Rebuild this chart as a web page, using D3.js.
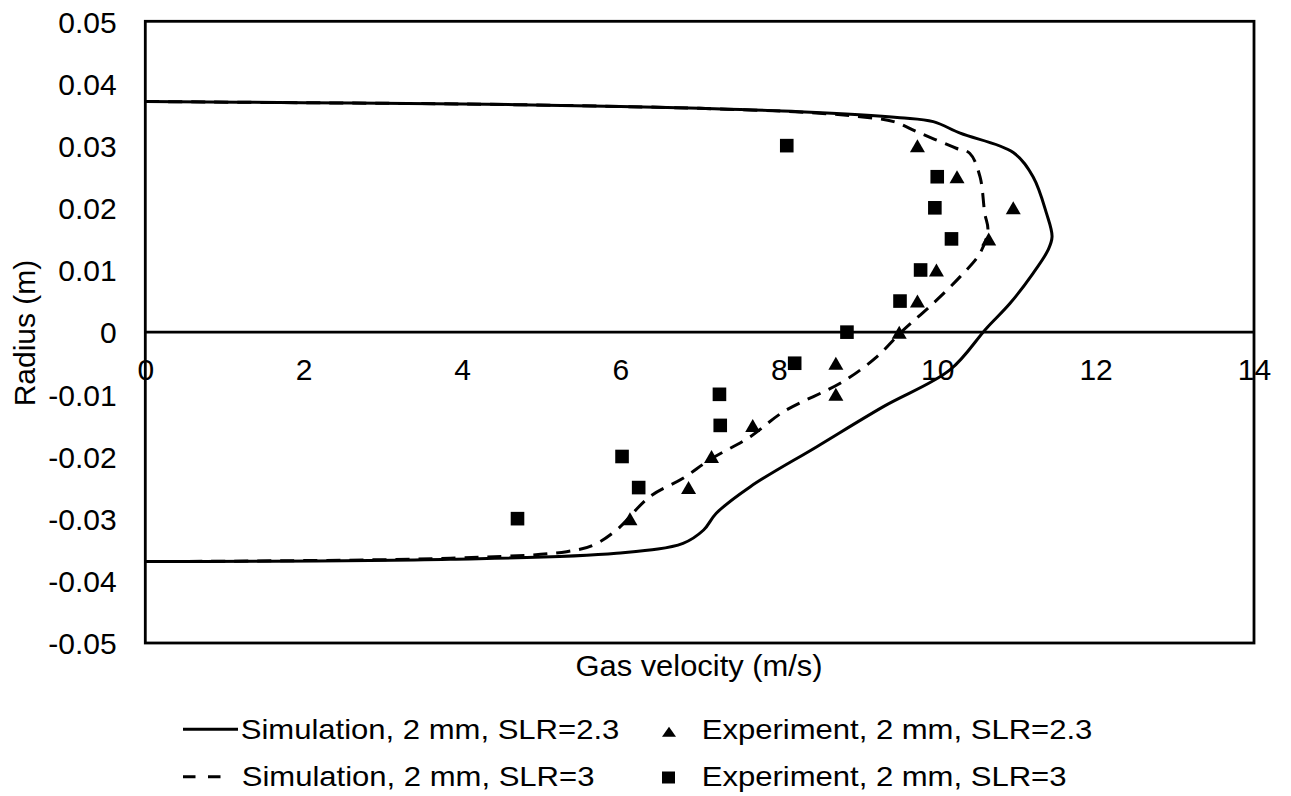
<!DOCTYPE html>
<html><head><meta charset="utf-8">
<script src="https://cdn.jsdelivr.net/npm/d3@7"></script>
<style>
html,body{margin:0;padding:0;background:#fff;}
svg text{font-family:"Liberation Sans",Arial,sans-serif;font-size:30px;fill:#000;}
</style></head>
<body>
<svg id="chart" width="1291" height="796"></svg>
<script>
// ---- data ----
const xTicks = [0, 2, 4, 6, 8, 10, 12, 14];
const yTicks = [0.05, 0.04, 0.03, 0.02, 0.01, 0, -0.01, -0.02, -0.03, -0.04, -0.05];
const yTickLabels = ["0.05","0.04","0.03","0.02","0.01","0","-0.01","-0.02","-0.03","-0.04","-0.05"];

// Simulation, SLR=2.3 (velocity, radius)
const simVel23 = [0, 2, 4, 6, 7, 8.26, 9.53, 9.95, 10.29, 10.96, 11.21, 11.38, 11.45, 11.40, 11.21, 10.92, 10.62, 10.16, 9.32, 8.48, 7.64, 7.21, 7.05, 6.79, 5.95, 3.85, 0];
const simRad23 = [0.0371, 0.0369, 0.0367, 0.0363, 0.0360, 0.03547, 0.0345, 0.03386, 0.0320, 0.0289, 0.0250, 0.0191, 0.01536, 0.01322, 0.00947, 0.00464, 0.0006, -0.00608, -0.01198, -0.01842, -0.02485, -0.02913, -0.03182, -0.03396, -0.03556, -0.03653, -0.0369];

// Simulation, SLR=3
const simVel3 = [0, 2, 4, 6, 7, 8.26, 9.0, 9.45, 9.74, 10.24, 10.41, 10.54, 10.60, 10.64, 10.54, 10.29, 9.95, 9.53, 9.24, 8.81, 8.06, 7.64, 7.13, 6.79, 6.37, 5.95, 5.66, 5.32, 3.85, 0];
const simRad3 = [0.0371, 0.0369, 0.0367, 0.0363, 0.0360, 0.0354, 0.0347, 0.03386, 0.03225, 0.02958, 0.02878, 0.02501, 0.01912, 0.01644, 0.01269, 0.00893, 0.00465, -0.00018, -0.00394, -0.00796, -0.01279, -0.01681, -0.02051, -0.0235, -0.02646, -0.03182, -0.03423, -0.03531, -0.03637, -0.0369];

// Experiment, SLR=2.3 (triangles)
const expVel23 = [9.75, 10.25, 10.96, 10.65, 9.99, 9.75, 9.52, 8.72, 8.72, 7.67, 7.15, 6.86, 6.12];
const expRad23 = [0.03, 0.025, 0.02, 0.015, 0.01, 0.005, 0, -0.005, -0.01, -0.015, -0.02, -0.025, -0.03];

// Experiment, SLR=3 (squares)
const expVel3 = [8.10, 10.0, 9.97, 10.18, 9.79, 9.53, 8.86, 8.20, 7.25, 7.26, 6.02, 6.23, 4.70];
const expRad3 = [0.03, 0.025, 0.02, 0.015, 0.01, 0.005, 0, -0.005, -0.01, -0.015, -0.02, -0.025, -0.03];

const legendLabels = ["Simulation, 2 mm, SLR=2.3", "Experiment, 2 mm, SLR=2.3", "Simulation, 2 mm, SLR=3", "Experiment, 2 mm, SLR=3"];
const xTitle = "Gas velocity (m/s)";
const yTitle = "Radius (m)";

// ---- drawing ----
const LSX = 1.15; // horizontal glyph stretch of legend text
const svg = d3.select("#chart");
const x = d3.scaleLinear().domain([0, 14]).range([145.3, 1254]);
const y = d3.scaleLinear().domain([-0.05, 0.05]).range([643, 21.3]);

const zip = (a, b) => a.map((v, i) => [v, b[i]]);
const FONT = '"Liberation Sans",Arial,sans-serif';

// Y axis
const yAxis = svg.append("g").attr("transform", `translate(${x(0)},0)`)
  .call(d3.axisLeft(y).tickValues(yTicks).tickSize(0).tickFormat((d, i) => yTickLabels[i]));
yAxis.select(".domain").remove();
yAxis.selectAll("text").attr("x", -28.6).attr("dy", "0.36em")
  .style("font-family", FONT).style("font-size", "30px").attr("fill", "#000");

// X axis labels sitting below the zero line
const xAxis = svg.append("g").attr("transform", `translate(0,${y(0)})`)
  .call(d3.axisBottom(x).tickValues(xTicks).tickSize(0).tickFormat(d3.format("d")));
xAxis.select(".domain").remove();
xAxis.selectAll("text").attr("y", 47.6).attr("dy", 0)
  .style("font-family", FONT).style("font-size", "30px").attr("fill", "#000");

// zero line
svg.append("line").attr("x1", x(0)).attr("x2", x(14)).attr("y1", y(0)).attr("y2", y(0))
  .attr("stroke", "#000").attr("stroke-width", 2.8);

// plot frame
svg.append("rect").attr("x", x(0)).attr("y", y(0.05)).attr("width", x(14) - x(0)).attr("height", y(-0.05) - y(0.05))
  .attr("fill", "none").attr("stroke", "#000").attr("stroke-width", 2.8);

// simulation curves
const line = d3.line().x(d => x(d[0])).y(d => y(d[1])).curve(d3.curveCatmullRom.alpha(0.5));
svg.append("path").datum(zip(simVel23, simRad23)).attr("d", line)
  .attr("fill", "none").attr("stroke", "#000").attr("stroke-width", 3);
svg.append("path").datum(zip(simVel3, simRad3)).attr("d", line)
  .attr("fill", "none").attr("stroke", "#000").attr("stroke-width", 3).attr("stroke-dasharray", "14,9");

// markers
function triPath(w, h) { return `M0,${-h/2}L${w/2},${h/2}L${-w/2},${h/2}Z`; }
svg.append("g").selectAll("path").data(zip(expVel23, expRad23)).join("path")
  .attr("transform", d => `translate(${x(d[0])},${y(d[1])})`)
  .attr("d", triPath(15, 13)).attr("fill", "#000");
svg.append("g").selectAll("rect").data(zip(expVel3, expRad3)).join("rect")
  .attr("x", d => x(d[0]) - 6.8).attr("y", d => y(d[1]) - 6.8)
  .attr("width", 13.6).attr("height", 13.6).attr("fill", "#000");

// axis titles
svg.append("text").attr("transform", `translate(699,676) scale(1.03,1)`)
  .attr("text-anchor", "middle").text(xTitle);
svg.append("text").attr("transform", `translate(34.5,333) rotate(-90)`)
  .attr("text-anchor", "middle").text(yTitle);

// legend
const lg = svg.append("g").style("font-size", "27px");
lg.append("line").attr("x1", 183).attr("x2", 238).attr("y1", 729.3).attr("y2", 729.3)
  .attr("stroke", "#000").attr("stroke-width", 3);
lg.append("text").attr("transform", `translate(240.7,739.3) scale(${LSX},1)`).style("font-size", "27px").text(legendLabels[0]);
lg.append("path").attr("transform", "translate(669,731.7)").attr("d", triPath(14, 10)).attr("fill", "#000");
lg.append("text").attr("transform", `translate(701.7,739.3) scale(${LSX},1)`).style("font-size", "27px").text(legendLabels[1]);
lg.append("line").attr("x1", 183).attr("x2", 223).attr("y1", 776.7).attr("y2", 776.7)
  .attr("stroke", "#000").attr("stroke-width", 3).attr("stroke-dasharray", "12.5,12.5");
lg.append("text").attr("transform", `translate(241.7,786) scale(${LSX},1)`).style("font-size", "27px").text(legendLabels[2]);
lg.append("rect").attr("x", 662).attr("y", 771.5).attr("width", 13).attr("height", 12).attr("fill", "#000");
lg.append("text").attr("transform", `translate(701.7,786) scale(${LSX},1)`).style("font-size", "27px").text(legendLabels[3]);
</script>
</body></html>
